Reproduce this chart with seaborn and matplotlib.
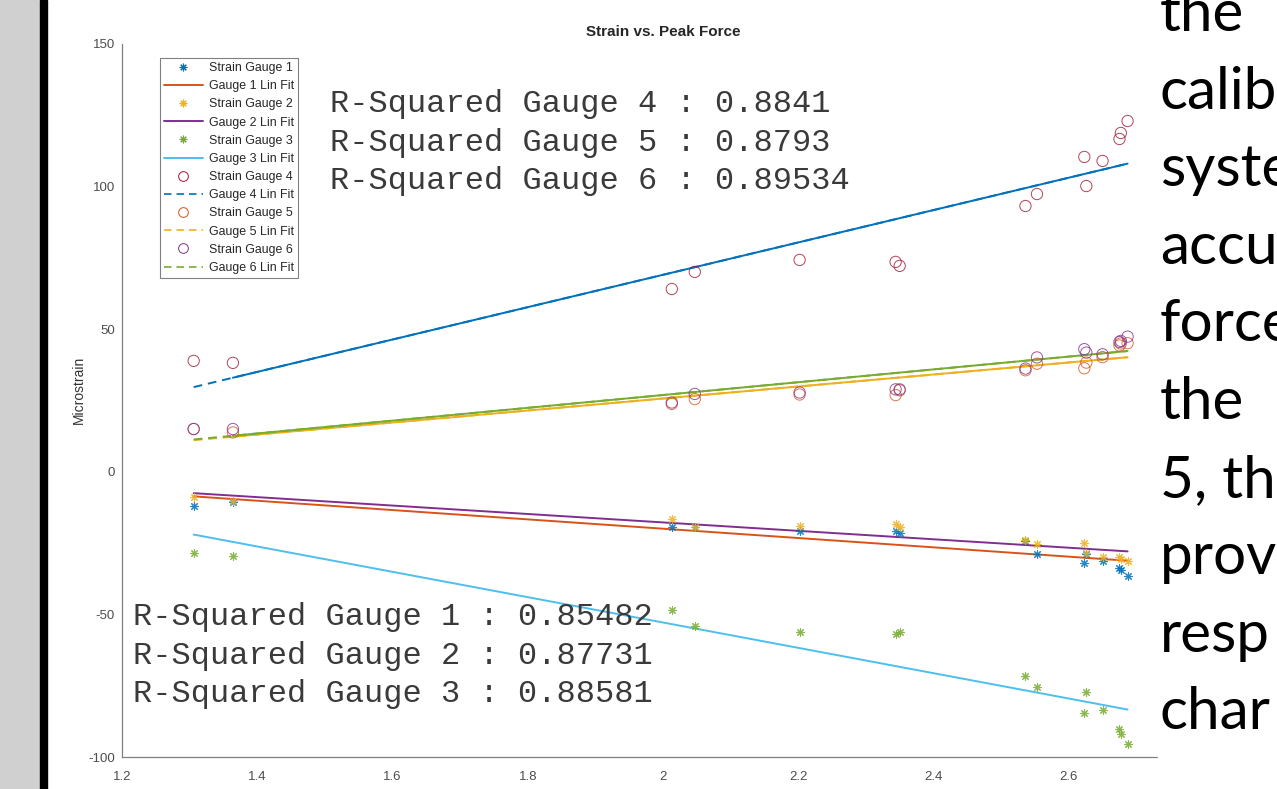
import matplotlib
matplotlib.use('Agg')
import matplotlib.pyplot as plt
from matplotlib.lines import Line2D
from matplotlib.patches import Rectangle
import numpy as np
import seaborn as sns

# peak force (x) shared by all gauges
peak_force = [1.306, 1.364, 2.013, 2.047, 2.202, 2.344, 2.350, 2.536,
              2.553, 2.623, 2.626, 2.650, 2.675, 2.677, 2.687]

gauge1 = [-11.9, -10.6, -19.5, -19.5, -20.9, -20.9, -21.5, -24.4,
          -28.7, -32.0, -28.9, -31.4, -33.8, -34.6, -36.7]
gauge2 = [-8.7, -10.4, -16.5, -19.3, -18.9, -18.3, -19.2, -24.0,
          -25.2, -24.8, -28.5, -29.7, -29.7, -30.5, -31.3]
gauge3 = [-28.5, -29.4, -48.6, -53.9, -56.2, -56.8, -56.2, -71.7,
          -75.5, -84.4, -77.3, -83.4, -90.2, -91.8, -95.4]
gauge4 = [38.9, 38.2, 64.1, 70.1, 74.3, 73.6, 72.2, 93.2,
          97.4, 110.4, 100.2, 109.0, 116.7, 118.8, 123.0]
gauge5 = [15.0, 13.8, 23.8, 25.5, 27.1, 26.9, 28.6, 35.6,
          37.9, 36.3, 38.3, 40.2, 44.3, 45.0, 45.1]
gauge6 = [15.0, 15.0, 24.3, 27.3, 27.8, 28.9, 28.9, 36.2,
          40.1, 43.0, 41.8, 41.2, 45.5, 45.9, 47.4]

r_squared = ['0.85482', '0.87731', '0.88581', '0.8841', '0.8793', '0.89534']

slide_lines = ['the', 'calib', 'syste', 'accu', 'force', 'the',
               '5, th', 'prov', 'resp', 'char']

# matlab default colour order
blue, orange, yellow, purple = '#0072BD', '#D95319', '#EDB120', '#7E2F8E'
green, lightblue, darkred = '#77AC30', '#4DBEEE', '#A2142F'

sns.set_style('white')
plt.rcParams['font.family'] = ['Liberation Sans', 'DejaVu Sans']
plt.rcParams['axes.unicode_minus'] = False

fig = plt.figure(figsize=(12.77, 7.89), dpi=100)
ax = fig.add_axes([122 / 1277, 32 / 789, 1082 / 1277, 713 / 789])

x = np.array(peak_force)
xs = np.sort(x)
series = [
    (gauge1, blue, orange, 'star'),
    (gauge2, yellow, purple, 'star'),
    (gauge3, green, lightblue, 'star'),
    (gauge4, darkred, blue, 'circle'),
    (gauge5, orange, yellow, 'circle'),
    (gauge6, purple, green, 'circle'),
]
star = (8, 2, 0)
handles, labels = [], []
for i, (vals, pcol, fcol, kind) in enumerate(series):
    y = np.array(vals)
    coef = np.polyfit(x, y, 1)
    fit = np.polyval(coef, xs)
    if kind == 'star':
        sns.scatterplot(x=x, y=y, marker=star, s=30, color=pcol, linewidth=0.8,
                        alpha=0.85, ax=ax, zorder=3)
        sns.lineplot(x=xs, y=fit, color=fcol, linewidth=1.4, estimator=None, ax=ax, zorder=2)
        handles += [Line2D([], [], marker=star, color=pcol, ls='none', ms=5.5, mew=0.8),
                    Line2D([], [], color=fcol, lw=1.4)]
    else:
        sns.scatterplot(x=x, y=y, marker='o', s=66, facecolor='none', edgecolor=pcol,
                        linewidth=0.7, alpha=0.8, ax=ax, zorder=3)
        ax.plot(xs, fit, color=fcol, linewidth=1.4, linestyle=(0, (4.5, 3)), zorder=2)
        # overlapping dashes make the fit look solid past the second sample
        sns.lineplot(x=xs[1:], y=fit[1:], color=fcol, linewidth=1.4, estimator=None, ax=ax, zorder=2)
        handles += [Line2D([], [], marker='o', mfc='none', mec=pcol, ls='none', ms=7, mew=0.7),
                    Line2D([], [], color=fcol, lw=1.2, ls=(0, (4.5, 3)))]
    labels += [f'Strain Gauge {i + 1}', f'Gauge {i + 1} Lin Fit']

ax.set_xlim(1.2, 2.8)
ax.set_ylim(-100, 150)
ax.set_xticks(np.arange(1.2, 2.81, 0.2))
ax.set_xticklabels(['1.2', '1.4', '1.6', '1.8', '2', '2.2', '2.4', '2.6', '2.8'])
ax.set_yticks([-100, -50, 0, 50, 100, 150])
for side in ['top', 'right']:
    ax.spines[side].set_visible(False)
for side in ['left', 'bottom']:
    ax.spines[side].set_color('#808080')
    ax.spines[side].set_linewidth(0.9)
ax.tick_params(direction='in', length=7, width=0.8, color='#808080',
               labelcolor='#4d4d4d', labelsize=9.5)
ax.tick_params(axis='x', pad=10)
ax.tick_params(axis='y', pad=5)

ax.set_title('Strain vs. Peak Force', fontsize=11, fontweight='bold', color='#262626', pad=6)
ax.set_ylabel('Microstrain', fontsize=10, color='#333333', va='center')
ax.yaxis.set_label_coords(-0.04, 0.515)
ax.set_xlabel('Peak Force (N)', fontsize=10, color='#333333', va='top')
ax.xaxis.set_label_coords(0.5, -0.0455)

leg = ax.legend(handles, labels, loc='upper left', bbox_to_anchor=(0.035, 0.98),
                borderaxespad=0, fontsize=8.9, labelspacing=0.5, handlelength=3.2,
                handletextpad=0.45, borderpad=0.3, fancybox=False, framealpha=1)
leg.get_frame().set_edgecolor('#808080')
leg.get_frame().set_linewidth(0.8)

mono = dict(family='Liberation Mono', fontsize=23, color='#3a3a3a', va='center')
for k, yv in enumerate([129.0, 115.3, 102.0]):
    ax.text(1.507, yv, f'R-Squared Gauge {k + 4} : {r_squared[k + 3]}', **mono)
for k, yv in enumerate([-50.8, -64.5, -77.8]):
    ax.text(1.216, yv, f'R-Squared Gauge {k + 1} : {r_squared[k]}', **mono)

# slide background pieces around the pasted chart
fig.patches.append(Rectangle((0, 0), 40 / 1277, 1, transform=fig.transFigure,
                             color='#d0d0d0', zorder=10))
fig.patches.append(Rectangle((40 / 1277, 0), 7 / 1277, 1, transform=fig.transFigure,
                             color='black', zorder=10))
fig.patches.append(Rectangle((1158 / 1277, 0), 1, 1, transform=fig.transFigure,
                             color='white', zorder=10))
for k, word in enumerate(slide_lines):
    base = 31 + 77.6 * k
    fig.text(1160 / 1277, 1 - base / 789, word, family=['Lato', 'DejaVu Sans'],
             fontsize=42, color='black', va='baseline', ha='left', zorder=11)

fig.savefig('out.png', dpi=100)
